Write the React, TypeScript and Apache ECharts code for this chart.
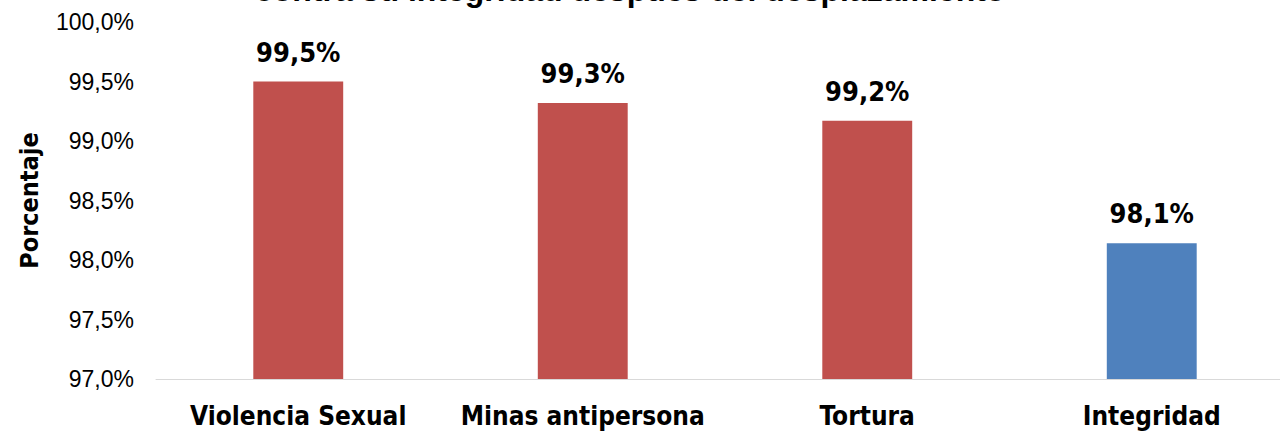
import React, { useEffect, useRef } from "react";
import * as echarts from "echarts";

const categories = ["Violencia Sexual", "Minas antipersona", "Tortura", "Integridad"];
const values = [99.5, 99.32, 99.17, 98.14];
const barColors = ["#C0504D", "#C0504D", "#C0504D", "#4F81BD"];
const titleText = "contra su integridad después del desplazamiento";
const yAxisName = "Porcentaje";

const fmt = (v: number) => v.toFixed(1).replace(".", ",") + "%";

export default function App() {
  const ref = useRef<HTMLDivElement>(null);
  useEffect(() => {
    if (!ref.current) return;
    const chart = echarts.init(ref.current, undefined, { renderer: "svg" });
    chart.setOption({
      animation: false,
      backgroundColor: "#ffffff",
      graphic: [
        {
          type: "text",
          left: 255,
          top: -26,
          style: {
            text: titleText,
            font: "bold 32px 'Liberation Sans', Arial, sans-serif",
            fill: "#000",
          },
        },
      ],
      grid: { left: 156, right: 0, top: 22, bottom: 53, containLabel: false },
      xAxis: {
        type: "category",
        data: categories,
        axisLine: { show: true, lineStyle: { color: "#D9D9D9", width: 1 } },
        axisTick: { show: false },
        axisLabel: {
          margin: 24,
          color: "#000",
          fontSize: 26,
          fontWeight: "bold",
          fontFamily: "'DejaVu Sans Condensed', 'Liberation Sans Narrow', sans-serif",
          interval: 0,
        },
      },
      yAxis: {
        type: "value",
        min: 97,
        max: 100,
        interval: 0.5,
        name: yAxisName,
        nameLocation: "middle",
        nameGap: 114,
        nameTextStyle: {
          color: "#000",
          fontSize: 25,
          fontWeight: "bold",
          fontFamily: "'DejaVu Sans Condensed', 'Liberation Sans', sans-serif",
        },
        axisLine: { show: false },
        axisTick: { show: false },
        splitLine: { show: false },
        axisLabel: {
          margin: 22,
          color: "#000",
          fontSize: 23,
          fontFamily: "'Liberation Sans', Arial, sans-serif",
          formatter: (v: number) => fmt(v),
        },
      },
      series: [
        {
          type: "bar",
          barWidth: "31.6%",
          data: values.map((v, i) => ({ value: v, itemStyle: { color: barColors[i] } })),
          label: {
            show: true,
            position: "top",
            distance: 16,
            color: "#000",
            fontSize: 27,
            fontWeight: "bold",
            fontFamily: "'DejaVu Sans Condensed', 'Liberation Sans', sans-serif",
            formatter: (p: any) => fmt(p.value),
          },
        },
      ],
    });
    return () => chart.dispose();
  }, []);
  return (
    <div style={{ position: "fixed", left: 0, top: 0, width: 1280, height: 432, overflow: "hidden" }}>
      <div ref={ref} style={{ width: 1294, height: 432 }} />
    </div>
  );
}
